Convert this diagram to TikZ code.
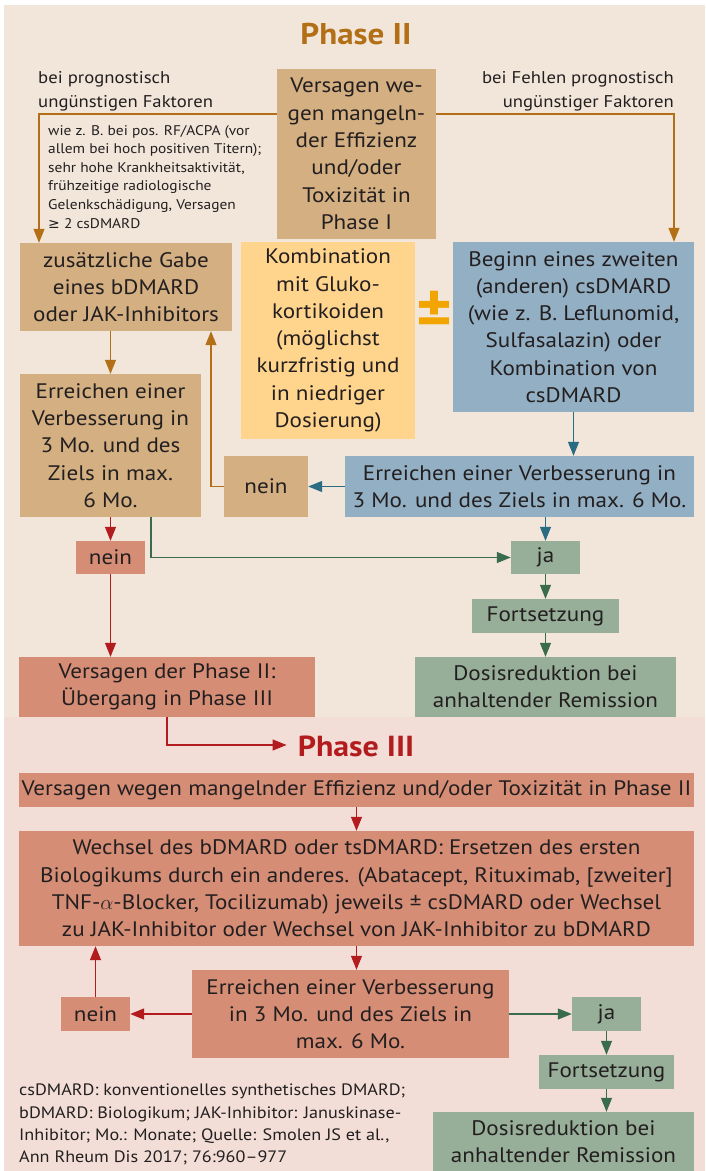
\documentclass[tikz,border=0pt]{standalone}
\usepackage{fontspec}
\setmainfont{PT Sans}[FakeStretch=1.1]
\newfontfamily\symfont{DejaVu Sans}
\usetikzlibrary{arrows.meta}
\definecolor{bgtwo}{HTML}{F2E6DA}
\definecolor{bgthree}{HTML}{F2DED6}
\definecolor{tanc}{HTML}{D3AF81}
\definecolor{yellowc}{HTML}{FFD58E}
\definecolor{bluec}{HTML}{93AFC3}
\definecolor{redc}{HTML}{D68D75}
\definecolor{greenc}{HTML}{97AE98}
\definecolor{brownl}{HTML}{B26F16}
\definecolor{bluel}{HTML}{2A6C82}
\definecolor{redl}{HTML}{B21C1E}
\definecolor{greenl}{HTML}{3B6B4D}
\definecolor{orangec}{HTML}{F2A500}
\definecolor{txt}{HTML}{231F20}
\newcommand\fsz[2]{\fontsize{#1}{#2}\selectfont}
\begin{document}
\begin{tikzpicture}[x=1pt,y=-1pt,
  box/.style={rectangle, inner sep=0pt, align=center, text=txt, font=\fsz{21}{27.3}},
  tanbox/.style={box, fill=tanc},
  yelbox/.style={box, fill=yellowc},
  bluebox/.style={box, fill=bluec},
  redbox/.style={box, fill=redc},
  grnbox/.style={box, fill=greenc},
  conn/.style={line width=1.3pt, -{Triangle[length=14pt,width=11pt]}},
  brownarr/.style={conn, draw=brownl},
  bluearr/.style={conn, draw=bluel},
  redarr/.style={conn, draw=redl},
  grnarr/.style={conn, draw=greenl},
  note/.style={inner sep=0pt, text=txt}
]
\useasboundingbox (0,0) rectangle (705,1171);
\fill[white] (0,0) rectangle (705,1171);
\fill[bgtwo] (4,5) rectangle (705,717);
\fill[bgthree] (4,717) rectangle (705,1171);

% ---------- Phase II ----------
\node[inner sep=0pt, text=brownl, font=\bfseries\fsz{30}{32}] (t2) at (356,34) {Phase II};

\node[note, anchor=north west, align=left, font=\fsz{17}{24}] (lblL) at (38,71) {bei prognostisch\\ungünstigen Faktoren};
\node[note, anchor=north east, align=right, font=\fsz{17}{24}] (lblR) at (674,71) {bei Fehlen prognostisch\\ungünstiger Faktoren};
\node[note, anchor=north west, align=left, font=\fsz{14}{18.6}] (lblS) at (48,125) {wie z. B. bei pos. RF/ACPA (vor\\allem bei hoch positiven Titern);\\sehr hohe Krankheitsaktivität,\\frühzeitige radiologische\\Gelenkschädigung, Versagen\\{\symfont ≥} 2 csDMARD};

\node[tanbox, minimum width=159pt, minimum height=170pt] (top) at (356.5,154)
  {Versagen we-\\gen mangeln-\\der Effizienz\\und/oder\\Toxizität in\\Phase I};

\node[tanbox, minimum width=212pt, minimum height=88pt] (zus) at (126,287)
  {zusätzliche Gabe\\eines bDMARD\\oder JAK-Inhibitors};
\node[yelbox, minimum width=174pt, minimum height=197pt] (kom) at (328,340.5)
  {Kombination\\mit Gluko-\\kortikoiden\\(möglichst\\kurzfristig und\\in niedriger\\Dosierung)};
\node[inner sep=0pt, text=orangec, font=\bfseries\fsz{62}{62}] (pm) at (434,312) {±};
\node[bluebox, minimum width=241pt, minimum height=170pt] (beg) at (573.5,327)
  {Beginn eines zweiten\\(anderen) csDMARD\\(wie z. B. Leflunomid,\\Sulfasalazin) oder\\Kombination von\\csDMARD};

\node[tanbox, minimum width=181pt, minimum height=143pt] (erA) at (110.5,445.5)
  {Erreichen einer\\Verbesserung in\\3 Mo. und des\\Ziels in max.\\6 Mo.};
\node[tanbox, minimum width=84pt, minimum height=61pt] (neinA) at (266,486.5) {nein};
\node[bluebox, minimum width=349pt, minimum height=61pt] (erB) at (519.5,486.5)
  {Erreichen einer Verbesserung in\\3 Mo. und des Ziels in max. 6 Mo.};

\node[redbox, minimum width=69pt, minimum height=33pt] (neinR) at (110.5,557.5) {nein};
\node[grnbox, minimum width=69pt, minimum height=33pt] (ja) at (545.5,557.5) {ja};
\node[grnbox, minimum width=147pt, minimum height=34pt] (forts) at (545.5,616) {Fortsetzung};
\node[redbox, minimum width=296pt, minimum height=60pt] (vers2) at (167,687)
  {Versagen der Phase II:\\Übergang in Phase III};
\node[grnbox, minimum width=261pt, minimum height=60pt] (dosA) at (545.5,687)
  {Dosisreduktion bei\\anhaltender Remission};

\coordinate (cL) at (39,114);
\coordinate (cR) at (674,114);
\coordinate (cN) at (211,486.5);
\coordinate (cG) at (151,557.5);
\draw[brownarr] (top.west |- cL) -- (cL) -- (zus.north -| cL);
\draw[brownarr] (top.east |- cR) -- (cR) -- (beg.north -| cR);
\draw[brownarr] (erA.north |- zus.south) -- (erA.north);
\draw[brownarr] (neinA.west) -- (cN) -- (zus.south -| cN);
\draw[bluearr] (erB.west) -- (neinA.east);
\draw[bluearr] (beg.south) -- (beg.south |- erB.north);
\draw[bluearr] (ja.north |- erB.south) -- (ja.north);
\draw[redarr] (erA.south) -- (neinR.north);
\draw[grnarr] (erA.south -| cG) -- (cG) -- (ja.west);
\draw[grnarr] (ja.south) -- (forts.north);
\draw[grnarr] (forts.south) -- (dosA.north);
\draw[redarr] (neinR.south) -- (neinR.south |- vers2.north);

% ---------- Phase III ----------
\node[inner sep=0pt, text=redl, font=\bfseries\fsz{29}{31}] (t3) at (356,746) {Phase III};
\coordinate (cP) at (167,745);
\draw[redarr] (vers2.south -| cP) -- (cP) -- ([xshift=-11pt]t3.west |- cP);

\node[redbox, minimum width=675pt, minimum height=34pt] (f3) at (356.5,790)
  {Versagen wegen mangelnder Effizienz und/oder Toxizität in Phase II};
\node[redbox, minimum width=675pt, minimum height=115pt] (w3) at (356.5,888.5)
  {Wechsel des bDMARD oder tsDMARD: Ersetzen des ersten\\Biologikums durch ein anderes. (Abatacept, Rituximab, [zweiter]\\TNF-$\alpha$-Blocker, Tocilizumab) jeweils ± csDMARD oder Wechsel\\zu JAK-Inhibitor oder Wechsel von JAK-Inhibitor zu bDMARD};
\node[redbox, minimum width=317pt, minimum height=88pt] (e3) at (350.5,1014)
  {Erreichen einer Verbesserung\\in 3 Mo. und des Ziels in\\max. 6 Mo.};
\node[redbox, minimum width=69pt, minimum height=34pt] (n3) at (95.5,1014) {nein};
\node[grnbox, minimum width=69pt, minimum height=34pt] (j3) at (606.5,1014) {ja};
\node[grnbox, minimum width=135pt, minimum height=34pt] (fo3) at (606.5,1072) {Fortsetzung};
\node[grnbox, minimum width=261pt, minimum height=60pt] (d3) at (563.5,1142)
  {Dosisreduktion bei\\anhaltender Remission};

\draw[redarr] (f3.south) -- (w3.north);
\draw[redarr] (w3.south) -- (w3.south |- e3.north);
\draw[redarr] (e3.west) -- (n3.east);
\draw[redarr] (n3.north) -- (n3.north |- w3.south);
\draw[grnarr] (e3.east) -- (j3.west);
\draw[grnarr] (j3.south) -- (fo3.north);
\draw[grnarr] (fo3.south) -- (fo3.south |- d3.north);

\node[note, anchor=north west, align=left, font=\fsz{16.5}{22.3}] (foot) at (19,1084)
  {csDMARD: konventionelles synthetisches DMARD;\\bDMARD: Biologikum; JAK-Inhibitor: Januskinase-\\Inhibitor; Mo.: Monate; Quelle: Smolen JS et al.,\\Ann Rheum Dis 2017; 76:960–977};
\end{tikzpicture}
\end{document}
